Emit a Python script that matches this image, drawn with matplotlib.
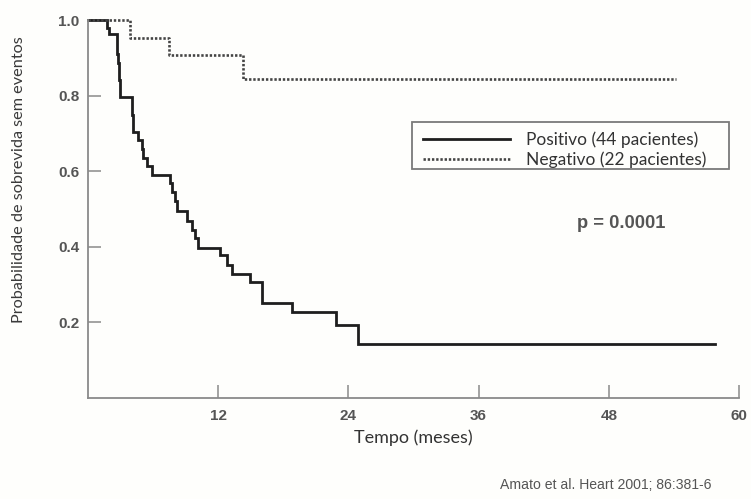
import matplotlib
matplotlib.use("Agg")
import matplotlib.pyplot as plt
from matplotlib.patches import Rectangle

# ---- data ----
pos_times = [0, 1.72, 1.94, 2.65, 2.70, 2.76, 2.82, 2.88, 2.93, 2.98, 4.03, 4.07, 4.11, 4.15,
             4.64, 4.95, 5.10, 5.41, 5.87, 7.56, 7.70, 8.02, 8.18, 9.15, 9.55, 9.86, 10.17,
             12.17, 12.78, 13.25, 14.93, 16.00, 18.83, 22.86, 24.91]
pos_surv = [1.0, 0.980, 0.962, 0.933, 0.909, 0.886, 0.864, 0.841, 0.818, 0.795, 0.773, 0.750, 0.727, 0.705,
            0.682, 0.659, 0.636, 0.614, 0.591, 0.568, 0.545, 0.520, 0.495, 0.467, 0.445, 0.423, 0.398,
            0.379, 0.352, 0.328, 0.308, 0.252, 0.227, 0.192, 0.143]
pos_end = 57.8

neg_times = [0, 3.87, 7.49, 14.31]
neg_surv = [1.0, 0.953, 0.907, 0.845]
neg_end = 54.2

x_ticks = [12, 24, 36, 48, 60]
y_ticks = [0.2, 0.4, 0.6, 0.8, 1.0]
y_ticklabels = ["0.2", "0.4", "0.6", "0.8", "1.0"]

label_pos = "Positivo (44 pacientes)"
label_neg = "Negativo (22 pacientes)"
xlabel = "Tempo (meses)"
ylabel = "Probabilidade de sobrevida sem eventos"
ptext = "p = 0.0001"
source = "Amato et al. Heart 2001; 86:381-6"

# ---- figure ----
W, H = 751, 499
fig = plt.figure(figsize=(W / 100, H / 100), dpi=100)
fig.patch.set_facecolor("#fefefc")

# legend box (frame drawn as a figure-level rectangle, behind the axes)
fig.patches.append(Rectangle((412 / W, 1 - 169.3 / H), (729 - 412) / W, (169.3 - 121.7) / H,
                             transform=fig.transFigure, facecolor="#fefefc",
                             edgecolor="#7a7a7a", lw=1.3, zorder=-5))

ax = fig.add_axes([88 / W, 1 - 398 / H, (739 - 88) / W, (398 - 20) / H])
ax.set_facecolor("none")
ax.set_zorder(1)

ax.plot(pos_times + [pos_end], pos_surv + [pos_surv[-1]], drawstyle="steps-post",
        color="#1e1e1e", lw=2.0, clip_on=False, solid_joinstyle="miter", label=label_pos)
ax.plot(neg_times + [neg_end], neg_surv + [neg_surv[-1]], drawstyle="steps-post",
        color="#444444", lw=1.9, linestyle=(0, (0.9, 0.7)), clip_on=False, label=label_neg)

ax.set_xlim(0, 60)
ax.set_ylim(0, 1.0)
for s in ["top", "right"]:
    ax.spines[s].set_visible(False)
for s in ["left", "bottom"]:
    ax.spines[s].set_color("#8a8a8a")
    ax.spines[s].set_linewidth(1.3)

ax.set_xticks(x_ticks)
ax.set_yticks(y_ticks)
ax.set_yticklabels(y_ticklabels)
ax.tick_params(axis="both", direction="in", length=9.5, width=1.1, color="#8a8a8a",
               labelsize=11, labelcolor="#555555")
ax.tick_params(axis="x", pad=8)
ax.tick_params(axis="y", pad=6)
for t in ax.get_xticklabels() + ax.get_yticklabels():
    t.set_fontfamily("Liberation Sans")
    t.set_fontweight("bold")

fig.text(413 / W, 1 - 438 / H, xlabel, ha="center", va="center", fontsize=13,
         family="Lato", color="#333333")
fig.text(19 / W, 1 - 180 / H, ylabel, ha="center", va="center", rotation=90, fontsize=11.7,
         family="Lato", color="#3a3a3a")
fig.text(621.5 / W, 1 - 223 / H, ptext, ha="center", va="center", fontsize=13.2,
         family="Liberation Sans", fontweight="bold", color="#555555")
fig.text(712 / W, 1 - 485 / H, source, ha="right", va="center", fontsize=10.1,
         family="Liberation Sans", color="#555555")

leg = ax.legend(loc="center left", bbox_to_anchor=(423 / W, 1 - 149.7 / H), bbox_transform=fig.transFigure,
                borderaxespad=0, borderpad=0, frameon=False, handlelength=5.0, handletextpad=0.92,
                labelspacing=0.18, prop={"family": "Lato", "size": 12.5})
for t in leg.get_texts():
    t.set_color("#333333")

fig.savefig("out.png", dpi=100, facecolor=fig.get_facecolor())
